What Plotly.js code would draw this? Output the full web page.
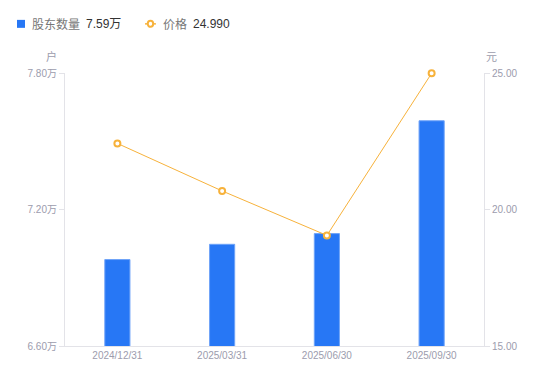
<!DOCTYPE html>
<html>
<head>
<meta charset="utf-8">
<script src="https://cdn.plot.ly/plotly-3.0.1.min.js"></script>
<style>html,body{margin:0;padding:0;background:#fff;}#chart{width:550px;height:381px;}</style>
</head>
<body>
<div id="chart"></div>
<script>
var categories = ["2024/12/31", "2025/03/31", "2025/06/30", "2025/09/30"];
var holders = [6.98, 7.047, 7.094, 7.59];   // 万户
var prices = [22.42, 20.68, 19.05, 24.99];  // 元
var holderTicks = [6.6, 7.2, 7.8];
var priceTicks = [15, 20, 25];

var FONT = "Liberation Sans, Arial, Noto Sans CJK SC, sans-serif";
var CJK = "Noto Sans CJK SC, sans-serif";
var BLUE = "#2777F5";
var ORANGE = "#F7B23B";
var TICKC = "#9c9cad";
var AXC = "#e3e3e8";
var LY = 1.18;

var traces = [
  {
    type: "bar", x: categories, y: holders, yaxis: "y", name: "股东数量",
    width: 0.24,
    marker: {color: BLUE, line: {color: "#6fa3f8", width: 1}},
    hoverinfo: "skip"
  },
  {
    type: "scatter", mode: "lines+markers", x: categories, y: prices, yaxis: "y2", name: "价格",
    line: {color: ORANGE, width: 1},
    marker: {symbol: "circle", size: 6, color: "#ffffff", line: {color: ORANGE, width: 2}},
    hoverinfo: "skip", cliponaxis: false
  }
];

var layout = {
  width: 550, height: 381,
  margin: {l: 65, r: 66, t: 73, b: 35},
  paper_bgcolor: "#fff", plot_bgcolor: "#fff",
  showlegend: false,
  font: {family: FONT, size: 11, color: TICKC},
  xaxis: {
    type: "category", showgrid: false, zeroline: false,
    showline: true, linecolor: AXC, linewidth: 1,
    ticks: "", tickfont: {size: 10, color: TICKC}, fixedrange: true
  },
  yaxis: {
    range: [6.6, 7.8], tickvals: holderTicks,
    ticktext: holderTicks.map(function(v){return v.toFixed(2) + "万";}),
    showgrid: false, zeroline: false, showline: true, linecolor: AXC, linewidth: 1,
    ticks: "outside", ticklen: 5, tickcolor: AXC, tickfont: {size: 10, color: TICKC}
  },
  yaxis2: {
    range: [15, 25], tickvals: priceTicks,
    ticktext: priceTicks.map(function(v){return v.toFixed(2);}),
    overlaying: "y", side: "right",
    showgrid: false, zeroline: false, showline: true, linecolor: AXC, linewidth: 1,
    ticks: "outside", ticklen: 5, tickcolor: AXC, tickfont: {size: 10, color: TICKC}
  },
  shapes: [
    {type: "rect", xref: "paper", yref: "paper", x0: -0.1146, x1: -0.0955, y0: LY - 0.0146, y1: LY + 0.0146,
     fillcolor: BLUE, line: {width: 0}},
    {type: "line", xref: "paper", yref: "paper", x0: 0.191, x1: 0.217, y0: LY, y1: LY,
     line: {color: ORANGE, width: 1.5}},
    {type: "circle", xref: "paper", yref: "paper", x0: 0.1975, x1: 0.2105, y0: LY - 0.011, y1: LY + 0.011,
     fillcolor: "#fff", line: {color: ORANGE, width: 2}}
  ],
  annotations: [
    {xref: "paper", yref: "paper", x: -0.083, y: LY, xanchor: "left", yanchor: "middle",
     showarrow: false, text: "股东数量", font: {family: CJK, size: 12, color: "#777"}},
    {xref: "paper", yref: "paper", x: 0.046, y: LY, xanchor: "left", yanchor: "middle",
     showarrow: false, text: "7.59万", font: {family: FONT, size: 12, color: "#333"}},
    {xref: "paper", yref: "paper", x: 0.229, y: LY, xanchor: "left", yanchor: "middle",
     showarrow: false, text: "价格", font: {family: CJK, size: 12, color: "#777"}},
    {xref: "paper", yref: "paper", x: 0.301, y: LY, xanchor: "left", yanchor: "middle",
     showarrow: false, text: "24.990", font: {family: FONT, size: 12, color: "#333"}},
    {xref: "paper", yref: "paper", x: -0.015, y: 1.063, xanchor: "right", yanchor: "middle",
     showarrow: false, text: "户", font: {family: CJK, size: 11, color: TICKC}},
    {xref: "paper", yref: "paper", x: 1.0, y: 1.063, xanchor: "left", yanchor: "middle",
     showarrow: false, text: "元", font: {family: CJK, size: 11, color: TICKC}}
  ]
};

Plotly.newPlot("chart", traces, layout, {displayModeBar: false, staticPlot: true});
</script>
</body>
</html>
